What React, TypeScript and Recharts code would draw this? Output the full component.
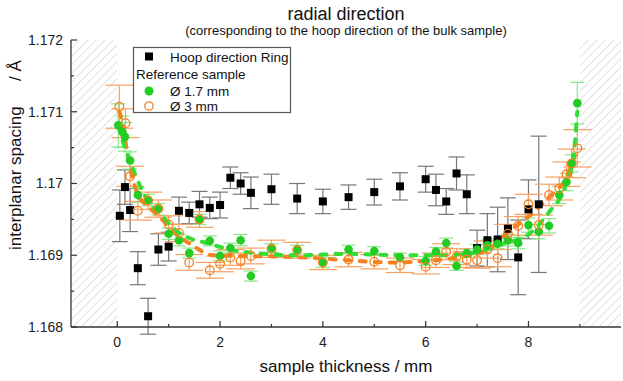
import {
  ComposedChart,
  Scatter,
  Line,
  XAxis,
  YAxis,
  ErrorBar,
  ReferenceArea,
} from "recharts";

// Hoop direction Ring (black squares)
const hoopX = [0.05, 0.15, 0.25, 0.4, 0.6, 0.8, 1.0, 1.2, 1.4, 1.6, 1.8, 2.0, 2.2, 2.4, 2.6, 3.0, 3.5, 4.0, 4.5, 5.0, 5.5, 6.0, 6.2, 6.4, 6.6, 6.8, 7.0, 7.2, 7.4, 7.6, 7.8, 8.0, 8.2];
const hoopY = [1.16955, 1.16995, 1.16963, 1.16882, 1.16815, 1.16908, 1.16912, 1.16962, 1.16959, 1.16971, 1.16966, 1.1697, 1.17008, 1.17, 1.16987, 1.16992, 1.16979, 1.16975, 1.16981, 1.16988, 1.16996, 1.17006, 1.16991, 1.16975, 1.17014, 1.16985, 1.1691, 1.16921, 1.16922, 1.16937, 1.16897, 1.16964, 1.16971];
const hoopErr = [0.00036, 0.00024, 0.0003, 0.00023, 0.00025, 0.00022, 0.0002, 0.00019, 0.00015, 0.00018, 0.00015, 0.00018, 0.00015, 0.00015, 0.00022, 0.00021, 0.00021, 0.00017, 0.00017, 0.00018, 0.00019, 0.00018, 0.00022, 0.00018, 0.00023, 0.00027, 0.00025, 0.00037, 0.00045, 0.00043, 0.00052, 0.00041, 0.00095];

// Reference sample, 1.7 mm (green dots)
const ref17X = [0.02, 0.1, 0.15, 0.25, 0.4, 0.6, 0.8, 1.0, 1.2, 1.4, 1.6, 1.8, 2.0, 2.2, 2.4, 2.6, 3.0, 3.5, 4.0, 4.5, 5.0, 5.5, 6.0, 6.2, 6.4, 6.6, 6.8, 7.0, 7.2, 7.4, 7.6, 7.8, 8.0, 8.2, 8.4, 8.6, 8.74, 8.84, 8.95];
const ref17Y = [1.17081, 1.17072, 1.17065, 1.17032, 1.16984, 1.16977, 1.16964, 1.1693, 1.16921, 1.16903, 1.1695, 1.1692, 1.16899, 1.1691, 1.16921, 1.16871, 1.1691, 1.16908, 1.1689, 1.16908, 1.16906, 1.16897, 1.16892, 1.16905, 1.16917, 1.16885, 1.16903, 1.16908, 1.16914, 1.16916, 1.16921, 1.16917, 1.16942, 1.16933, 1.16941, 1.16984, 1.17002, 1.17028, 1.17112];
const ref17Err = [0.0003, 0.00022, 0.0002, 0.00012, 0.0001, 0.00008, 0.00008, 0.00008, 0.00008, 0.00007, 0.00007, 0.00007, 0.00007, 0.00007, 0.00008, 0.00007, 0.00006, 0.00006, 0.00007, 0.00006, 0.00006, 0.00006, 0.00006, 0.00006, 0.00007, 0.00006, 0.00006, 0.00007, 0.00007, 0.00007, 0.00008, 0.00008, 0.0001, 0.0001, 0.0001, 0.00012, 0.00012, 0.00012, 0.00029];

// Reference sample, 3 mm (orange rings)
const ref3X = [0.04, 0.16, 0.25, 0.4, 0.6, 0.8, 1.0, 1.2, 1.4, 1.6, 1.8, 2.0, 2.2, 2.4, 2.6, 3.0, 3.5, 4.0, 4.5, 5.0, 5.5, 6.0, 6.2, 6.4, 6.6, 6.8, 7.0, 7.2, 7.4, 7.6, 7.8, 8.0, 8.2, 8.4, 8.6, 8.74, 8.84, 8.95];
const ref3Y = [1.17107, 1.17084, 1.1701, 1.16962, 1.16976, 1.16965, 1.16943, 1.16931, 1.1689, 1.1695, 1.16879, 1.16888, 1.16897, 1.16892, 1.16899, 1.16909, 1.16907, 1.1689, 1.16894, 1.16891, 1.16886, 1.16884, 1.16893, 1.16905, 1.16898, 1.16894, 1.16893, 1.16908, 1.16896, 1.1693, 1.16941, 1.16971, 1.16942, 1.16984, 1.16993, 1.17013, 1.17028, 1.17049];
const ref3Err = [0.0003, 0.0002, 0.00014, 0.00013, 0.00012, 0.00012, 0.00012, 0.00012, 0.00011, 0.00011, 0.00011, 0.00011, 0.00011, 0.00011, 0.00011, 0.00012, 0.00011, 0.0001, 0.0001, 0.0001, 0.0001, 0.0001, 0.0001, 0.00011, 0.00011, 0.00011, 0.00011, 0.00012, 0.00012, 0.00013, 0.00013, 0.00014, 0.00014, 0.00015, 0.00016, 0.00017, 0.0002, 0.00026];

// fitted curves (dashed)
const fit17X = [0.02, 0.15, 0.35, 0.6, 0.85, 1.1, 1.4, 1.75, 2.25, 2.7, 3.5, 4.5, 5.5, 6.3, 6.9, 7.5, 8.0, 8.4, 8.7, 8.87, 8.95];
const fit17Y = [1.1708, 1.1705, 1.17012, 1.16975, 1.16957, 1.16937, 1.16924, 1.16917, 1.16907, 1.16903, 1.169, 1.16902, 1.169, 1.169, 1.16903, 1.16916, 1.16929, 1.1696, 1.16993, 1.17035, 1.171];
const fit3X = [0.04, 0.1, 0.2, 0.4, 0.6, 0.8, 1.1, 1.5, 1.85, 2.4, 3.3, 4.3, 5.3, 6.0, 6.7, 7.2, 7.65, 8.0, 8.4, 8.75, 8.96];
const fit3Y = [1.171, 1.17085, 1.1704, 1.16985, 1.16968, 1.16955, 1.16933, 1.16912, 1.169, 1.16899, 1.16898, 1.16894, 1.1689, 1.16892, 1.16898, 1.16907, 1.16935, 1.16954, 1.16981, 1.1701, 1.17051];

const xMajorTicks = [0, 2, 4, 6, 8];
const xTickLabels = ["0", "2", "4", "6", "8"];
const xMinorTicks = [1, 3, 5, 7, 9];
const yMajorTicks = [1.168, 1.169, 1.17, 1.171, 1.172];
const yTickLabels = ["1.168", "1.169", "1.17", "1.171", "1.172"];
const yMinorTicks = [1.1685, 1.1695, 1.1705, 1.1715];

const legendLabels = ["Hoop direction Ring", "Reference sample", "Ø 1.7 mm", "Ø 3 mm"];

const X_DOMAIN = [-0.9, 9.8];
const Y_DOMAIN = [1.168, 1.172];
const hatchLeft = [-0.9, 0];
const hatchRight = [9, 9.8];

const FONT = '"Liberation Sans", Arial, sans-serif';
const AXIS = "#333";
const GREEN = "#22cc22";
const ORANGE = "#f58220";

const zip = (xs: number[], ys: number[], es?: number[]) =>
  xs.map((x, i) => ({ x, y: ys[i], err: es ? es[i] : 0 }));

const hoopData = zip(hoopX, hoopY, hoopErr);
const ref17Data = zip(ref17X, ref17Y, ref17Err);
const ref3Data = zip(ref3X, ref3Y, ref3Err);
const fit17Data = zip(fit17X, fit17Y);
const fit3Data = zip(fit3X, fit3Y);

const xAllTicks = [...xMajorTicks, ...xMinorTicks].sort((a, b) => a - b);
const yAllTicks = [...yMajorTicks, ...yMinorTicks].sort((a, b) => a - b);

const X_MARGIN = 15;
const Y_MARGIN = 8;

const majorIndex = (list: number[], v: number) =>
  list.findIndex((t) => Math.abs(t - v) < 1e-7);

// ticks point into the plot, like the original (Origin-style) frame
const BottomTick = (props: any) => {
  const { x, y, payload } = props;
  const i = majorIndex(xMajorTicks, payload.value);
  const axisY = y - X_MARGIN;
  return (
    <g>
      <line x1={x} x2={x} y1={axisY} y2={axisY - (i >= 0 ? 6 : 3)} stroke={AXIS} strokeWidth={1.2} />
      {i >= 0 && (
        <text x={x} y={y} dy="0.35em" textAnchor="middle" fontSize={14} fill="#222" fontFamily={FONT}>
          {xTickLabels[i]}
        </text>
      )}
    </g>
  );
};

const TopTick = (props: any) => {
  const { x, y, payload } = props;
  const i = majorIndex(xMajorTicks, payload.value);
  return <line x1={x} x2={x} y1={y} y2={y + (i >= 0 ? 6 : 3)} stroke={AXIS} strokeWidth={1.2} />;
};

const LeftTick = (props: any) => {
  const { x, y, payload } = props;
  const i = majorIndex(yMajorTicks, payload.value);
  const axisX = x + Y_MARGIN;
  return (
    <g>
      <line x1={axisX} x2={axisX + (i >= 0 ? 6 : 3)} y1={y} y2={y} stroke={AXIS} strokeWidth={1.2} />
      {i >= 0 && (
        <text x={x} y={y} dy="0.35em" textAnchor="end" fontSize={14} fill="#222" fontFamily={FONT}>
          {yTickLabels[i]}
        </text>
      )}
    </g>
  );
};

const RightTick = (props: any) => {
  const { x, y, payload } = props;
  const i = majorIndex(yMajorTicks, payload.value);
  return <line x1={x} x2={x - (i >= 0 ? 6 : 3)} y1={y} y2={y} stroke={AXIS} strokeWidth={1.2} />;
};

const SquareDot = (p: any) => (
  <rect x={p.cx - 4} y={p.cy - 4} width={8} height={8} fill="#000" />
);
const FilledDot = (p: any) => <circle cx={p.cx} cy={p.cy} r={4.3} fill={GREEN} />;
const RingDot = (p: any) => (
  <circle cx={p.cx} cy={p.cy} r={4.3} fill="none" stroke={ORANGE} strokeWidth={1.3} />
);

export default function App() {
  return (
    <div style={{ position: "absolute", left: 0, top: 0, width: 623, height: 381, background: "#fff" }}>
      <ComposedChart width={623} height={381} margin={{ top: 40, right: 2, bottom: 0, left: 0 }}>
        <defs>
          <pattern id="hatch" patternUnits="userSpaceOnUse" width={6} height={6} patternTransform="rotate(45)">
            <line x1={0} y1={0} x2={0} y2={6} stroke="#c4c4c4" strokeWidth={1} />
          </pattern>
        </defs>

        <XAxis
          dataKey="x"
          type="number"
          domain={X_DOMAIN}
          allowDataOverflow
          ticks={xAllTicks}
          interval={0}
          height={54}
          tickSize={0}
          tickMargin={X_MARGIN}
          tick={BottomTick}
          axisLine={{ stroke: AXIS, strokeWidth: 1.3 }}
        />
        <XAxis
          xAxisId="top"
          orientation="top"
          type="number"
          domain={X_DOMAIN}
          allowDataOverflow
          ticks={xAllTicks}
          interval={0}
          height={0}
          tickSize={0}
          tickMargin={0}
          tick={TopTick}
          axisLine={{ stroke: AXIS, strokeWidth: 1.3 }}
        />
        <YAxis
          dataKey="y"
          type="number"
          domain={Y_DOMAIN}
          allowDataOverflow
          ticks={yAllTicks}
          interval={0}
          width={71}
          tickSize={0}
          tickMargin={Y_MARGIN}
          tick={LeftTick}
          axisLine={{ stroke: AXIS, strokeWidth: 1.3 }}
        />
        <YAxis
          yAxisId="right"
          orientation="right"
          type="number"
          domain={Y_DOMAIN}
          allowDataOverflow
          ticks={yAllTicks}
          interval={0}
          width={0}
          tickSize={0}
          tickMargin={0}
          tick={RightTick}
          axisLine={{ stroke: AXIS, strokeWidth: 1.3 }}
        />

        <ReferenceArea x1={hatchLeft[0]} x2={hatchLeft[1]} y1={Y_DOMAIN[0]} y2={Y_DOMAIN[1]} fill="url(#hatch)" fillOpacity={1} stroke="none" ifOverflow="hidden" />
        <ReferenceArea x1={hatchRight[0]} x2={hatchRight[1]} y1={Y_DOMAIN[0]} y2={Y_DOMAIN[1]} fill="url(#hatch)" fillOpacity={1} stroke="none" ifOverflow="hidden" />

        <Scatter data={hoopData} dataKey="y" shape={SquareDot} isAnimationActive={false}>
          <ErrorBar dataKey="err" direction="y" width={8} stroke="#777" strokeWidth={1.2} />
        </Scatter>
        <Scatter data={ref17Data} dataKey="y" shape={FilledDot} isAnimationActive={false}>
          <ErrorBar dataKey="err" direction="y" width={7} stroke="#88e888" strokeWidth={1.2} />
        </Scatter>
        <Scatter data={ref3Data} dataKey="y" shape={RingDot} isAnimationActive={false}>
          <ErrorBar dataKey="err" direction="y" width={14} stroke="#f8a060" strokeWidth={1.2} />
        </Scatter>

        <Line data={fit3Data} dataKey="y" type="monotone" stroke={ORANGE} strokeWidth={4} strokeDasharray="6 9" strokeLinecap="round" dot={false} activeDot={false} isAnimationActive={false} />
        <Line data={fit17Data} dataKey="y" type="monotone" stroke="#33dd33" strokeWidth={4} strokeDasharray="6 9" strokeLinecap="round" dot={false} activeDot={false} isAnimationActive={false} />
      </ComposedChart>

      {/* titles + legend box drawn on top */}
      <svg width={623} height={381} style={{ position: "absolute", left: 0, top: 0, pointerEvents: "none" }}>
        <g fontFamily={FONT} fill="#111">
          <text x={346} y={20} textAnchor="middle" fontSize={18}>
            radial direction
          </text>
          <text x={346} y={35} textAnchor="middle" fontSize={13}>
            (corresponding to the hoop direction of the bulk sample)
          </text>
          <text x={346} y={372} textAnchor="middle" fontSize={17}>
            sample thickness / mm
          </text>
          <text x={0} y={0} transform="translate(21,250) rotate(-90)" fontSize={17}>
            interplanar spacing
          </text>
          <text x={0} y={0} transform="translate(21,81) rotate(-90)" fontSize={17}>
            / Å
          </text>
        </g>

        <g fontFamily={FONT} fontSize={13.5} fill="#111">
          <rect x={133.5} y={47.5} width={157} height={65} fill="#fff" stroke="#555" strokeWidth={1.2} />
          <rect x={145} y={52.5} width={8} height={8} fill="#000" />
          <text x={170} y={61.5}>{legendLabels[0]}</text>
          <text x={136} y={79}>{legendLabels[1]}</text>
          <circle cx={149} cy={91} r={4.5} fill={GREEN} />
          <text x={170} y={95.5}>{legendLabels[2]}</text>
          <circle cx={149} cy={106} r={4.2} fill="none" stroke={ORANGE} strokeWidth={1.3} />
          <text x={170} y={111}>{legendLabels[3]}</text>
        </g>
      </svg>
    </div>
  );
}
